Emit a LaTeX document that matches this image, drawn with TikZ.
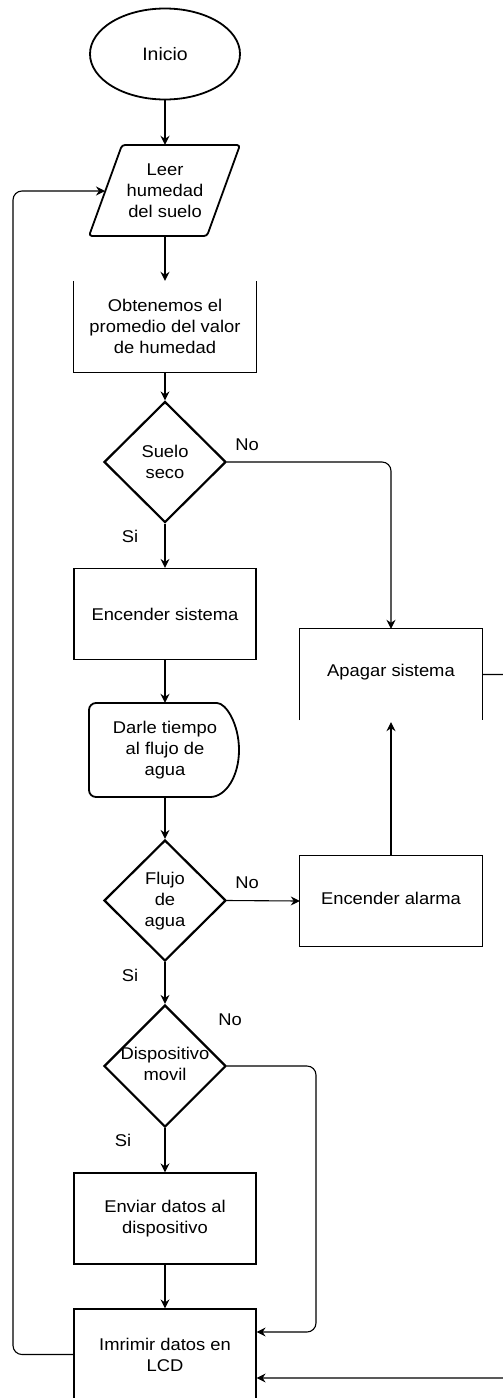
\documentclass[tikz,border=0pt]{standalone}
\usepackage{fontspec}
\setmainfont{Liberation Sans}[FakeStretch=1.08]
\usetikzlibrary{shapes.geometric,arrows.meta}
\tikzset{
  txt/.style={font=\fontsize{17}{21}\selectfont, align=center, inner sep=0pt},
  boxnode/.style={txt, rectangle, draw, line width=1.2pt, minimum width=182pt, minimum height=91pt},
  plainbox/.style={txt, rectangle, minimum width=182pt, minimum height=91pt},
  termnode/.style={txt, ellipse, draw, line width=1.8pt, minimum width=150pt, minimum height=91pt},
  decnode/.style={diamond, draw, line width=2.2pt, minimum width=122pt, minimum height=121pt, inner sep=0pt},
  shapeline/.style={line width=1.8pt},
  flow/.style={line width=1.8pt, -{Stealth[length=9pt,width=9pt,inset=3pt]}},
  side/.style={line width=1.1pt, rounded corners=9pt, -{Stealth[length=9pt,width=9pt,inset=3pt]}},
  lbl/.style={font=\fontsize{17}{21}\selectfont, inner sep=0pt}
}
\begin{document}
\begin{tikzpicture}[x=1pt,y=-1pt]
\useasboundingbox (0,0) rectangle (503,1398);
\clip (0,0) rectangle (503,1398);
\fill[white] (0,0) rectangle (503,1398);

% Nodes
\node[termnode, font=\fontsize{18}{21}\selectfont] (inicio) at (165,54) {Inicio};

\node[txt, rectangle, minimum width=150pt, minimum height=91pt] (leer) at (165,190.5) {Leer\\humedad\\del suelo};
\draw[shapeline, rounded corners=3pt] (89,236) -- (122,145) -- (240,145) -- (207,236) -- cycle;
\coordinate (leerin) at (105,191);

\node[plainbox] (obt) at (165,326.5) {Obtenemos el\\promedio del valor\\de humedad};
\draw[line width=1.2pt] (obt.north west) -- (obt.south west) -- (obt.south east) -- (obt.north east);

\node[decnode] (d1) at (165,462) {};
\node[txt] at (165,462) {Suelo\\seco};

\node[boxnode] (enc) at (165,614) {Encender sistema};

\node[txt, rectangle, minimum width=150pt, minimum height=94pt] (darle) at (165,750) {Darle tiempo\\al flujo de\\agua};
\draw[shapeline] (210,703) arc[start angle=-90,end angle=90,x radius=29,y radius=47]
  [rounded corners=7pt] -- (89,797) -- (89,703) -- cycle;

\node[decnode] (d2) at (165,900.5) {};
\node[txt] at (165,901) {Flujo\\de\\agua};

\node[decnode, minimum height=122pt] (d3) at (165,1066) {};
\node[txt] at (165,1064) {Dispositivo\\movil};

\node[boxnode] (env) at (165,1218.5) {Enviar datos al\\dispositivo};

\node[boxnode] (lcd) at (165,1354.5) {Imrimir datos en\\LCD};

\node[plainbox] (apag) at (391,674.5) {};
\node[txt] at (391,672) {Apagar sistema};
\draw[line width=1.2pt] (apag.south west) -- (apag.north west) -- (apag.north east) -- (apag.south east);

\node[plainbox] (alarma) at (391,901) {};
\node[txt] at (391,898) {Encender alarma};
\draw[line width=1.2pt] (alarma.south west) rectangle (alarma.north east);

% Connectors
\draw[flow] (inicio) -- (leer);
\draw[flow] (leer) -- (obt);
\draw[flow] (obt) -- (d1);
\draw[side] (d1.east) -| (apag.north);
\draw[flow] (d1) -- (enc);
\draw[flow] (enc) -- (darle);
\draw[flow] (darle) -- (d2);
\draw[side] (d2.east) -- (alarma.west);
\draw[flow] (d2) -- (d3);
\draw[side] (alarma.north) -- ([yshift=-2pt]apag.south);
\draw[flow] (d3) -- (env);
\draw[flow] (env) -- (lcd);
\coordinate (c3) at (316,1332);
\draw[side] (d3.east) -| (c3) -- (lcd.east |- c3);
\coordinate (cl) at (13,191);
\draw[side] (lcd.west) -| (cl) -- (leerin);
\coordinate (offr) at (540,1378);
\draw[side] (apag.east) -| (offr) -- (lcd.east |- offr);

% Labels
\node[lbl] at (247,445) {No};
\node[lbl] at (130,536) {Si};
\node[lbl] at (247,883) {No};
\node[lbl] at (130,975) {Si};
\node[lbl] at (230,1020) {No};
\node[lbl] at (123,1140) {Si};
\end{tikzpicture}
\end{document}
